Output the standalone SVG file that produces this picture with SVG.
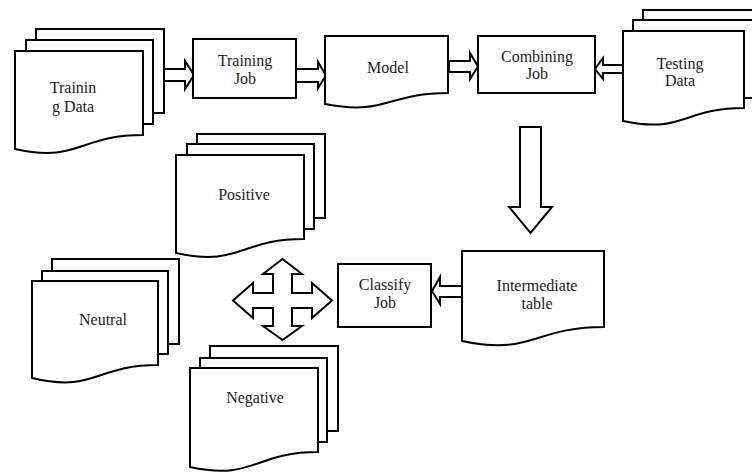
<svg xmlns="http://www.w3.org/2000/svg" width="752" height="473" viewBox="0 0 752 473" font-family="'Liberation Serif', 'Times New Roman', Times, 'DejaVu Serif', serif">
<style>
.s{fill:#fff;stroke:#000;stroke-width:2;stroke-linejoin:miter}
text{font-family:'Liberation Serif','Times New Roman',Times,'DejaVu Serif',serif;font-size:16px;fill:#1a1a1a;text-anchor:middle}
</style>
<rect width="752" height="473" fill="#fff"/>
<g id="connectors">
<polygon class="s" points="164,69 185,69 185,61 194,75 185,89 185,81 164,81"/>
<polygon class="s" points="296,69 318,69 318,62 326,75.5 318,88 318,82 296,82"/>
<polygon class="s" points="449,61 470,61 470,53 478,66.5 470,79 470,72 449,72"/>
<polygon class="s" points="623,65 603,65 603,58 595,69 603,79 603,73 623,73"/>
<polygon class="s" points="520,127 541,127 541,207 552,207 530.5,233 509,207 520,207"/>
<polygon class="s" points="462,286 440,286 440,277 432,291 440,304 440,297 462,297"/>
<polygon class="s" points="282.5,259 302,274 292,274 292,293 312,293 312,283 332,300.5 312,318 312,308 292,308 292,326 302,326 282.5,340 263,326 273,326 273,308 253,308 253,318 233,300.5 253,283 253,293 273,293 273,274 263,274"/>
</g>
<g id="training-data">
<rect class="s" x="36" y="29" width="128" height="84"/>
<rect class="s" x="26" y="40" width="127" height="84"/>
<path class="s" d="M15,51 H143 V135 C79,135 79,163 15,149 Z"/>
<text x="73" y="93">Trainin</text>
<text x="73" y="112">g Data</text>
</g>
<g id="training-job">
<rect class="s" x="193" y="39" width="103" height="59"/>
<text x="245" y="66">Training</text>
<text x="245" y="84">Job</text>
</g>
<g id="model">
<path class="s" d="M325,36 H448 V93 C386.5,93 386.5,116 325,104 Z"/>
<text x="388" y="73">Model</text>
</g>
<g id="combining-job">
<rect class="s" x="478" y="36" width="117" height="57"/>
<text x="537" y="62">Combining</text>
<text x="537" y="79">Job</text>
</g>
<g id="testing-data">
<rect class="s" x="643" y="10" width="125" height="78"/>
<rect class="s" x="633" y="20" width="125" height="78"/>
<path class="s" d="M623,31 H744 V108 C683.5,108 683.5,134 623,121 Z"/>
<text x="680" y="69">Testing</text>
<text x="680" y="86">Data</text>
</g>
<g id="intermediate-table">
<path class="s" d="M462,251 H604 V327 C533,327 533,356 462,341 Z"/>
<text x="537" y="291">Intermediate</text>
<text x="537" y="309">table</text>
</g>
<g id="classify-job">
<rect class="s" x="338" y="264" width="93" height="63"/>
<text x="385" y="290">Classify</text>
<text x="385" y="308">Job</text>
</g>
<g id="positive">
<rect class="s" x="197" y="134" width="128" height="84"/>
<rect class="s" x="187" y="144" width="127" height="85"/>
<path class="s" d="M176,155 H304 V239 C240,239 240,267 176,253 Z"/>
<text x="244" y="200">Positive</text>
</g>
<g id="neutral">
<rect class="s" x="52" y="259" width="127" height="85"/>
<rect class="s" x="42" y="271" width="126" height="83"/>
<path class="s" d="M32,281 H158 V365 C95,365 95,393 32,378 Z"/>
<text x="103" y="325">Neutral</text>
</g>
<g id="negative">
<rect class="s" x="210" y="346" width="128" height="85"/>
<rect class="s" x="200" y="358" width="127" height="84"/>
<path class="s" d="M190,368 H318 V452 C254,452 254,481 190,467 Z"/>
<text x="255" y="403">Negative</text>
</g>
</svg>
